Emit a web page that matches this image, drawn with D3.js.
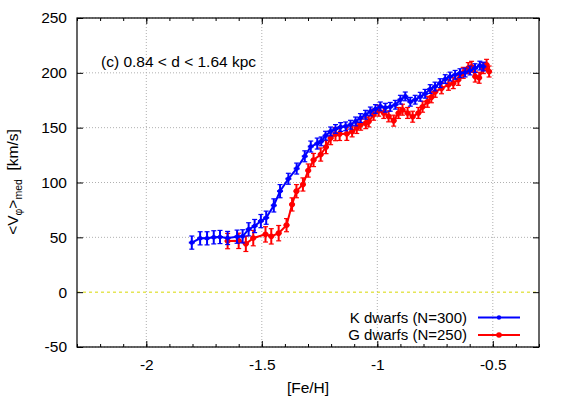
<!DOCTYPE html>
<html><head><meta charset="utf-8">
<script src="https://cdn.jsdelivr.net/npm/d3@7/dist/d3.min.js"></script>
<style>body{margin:0;background:#fff}svg{display:block}text{font-family:"Liberation Sans",Arial,sans-serif}</style>
</head><body>
<svg id="c" width="568" height="398"></svg>
<script>
// K dwarfs (N=300)
const kFe = [-1.803,-1.767,-1.737,-1.708,-1.681,-1.648,-1.607,-1.583,-1.557,-1.531,-1.504,-1.481,-1.448,-1.421,-1.385,-1.349,-1.314,-1.288,-1.260,-1.243,-1.224,-1.202,-1.181,-1.159,-1.137,-1.116,-1.094,-1.073,-1.051,-1.030,-1.008,-0.987,-0.965,-0.944,-0.922,-0.900,-0.879,-0.857,-0.836,-0.814,-0.793,-0.771,-0.750,-0.728,-0.706,-0.685,-0.663,-0.642,-0.620,-0.599,-0.577,-0.556,-0.541];
const kV  = [45.2,49.1,49.1,50.0,50.3,49.4,50.6,50.9,57.3,60.3,64.8,67.9,79.1,92.1,103.4,112.7,123.9,132.8,135.5,137.5,142.7,146.6,148.8,150.6,151.2,152.7,155.7,158.8,161.8,164.8,167.0,169.4,168.2,169.0,170.9,175.5,178.5,173.6,175.5,178.2,180.9,185.2,187.5,190.6,194.3,196.6,198.2,199.7,200.3,202.1,204.3,206.6,205.7];
const kErr= [6,6,6,6,6,6,6,6,6,6,6,6,6,6,5,5,5,5,5,4,4,4,4,4,4,4,4,4,4,4,4,4,4,4,4,4,4,4,4,4,4,4,4,4,4,4,4,4,4,4,4,4,4];
// G dwarfs (N=250)
const gFe = [-1.648,-1.600,-1.569,-1.537,-1.484,-1.459,-1.427,-1.393,-1.369,-1.350,-1.322,-1.299,-1.276,-1.245,-1.222,-1.202,-1.181,-1.163,-1.132,-1.109,-1.089,-1.072,-1.050,-1.037,-1.016,-0.994,-0.972,-0.951,-0.929,-0.908,-0.891,-0.869,-0.847,-0.822,-0.804,-0.783,-0.766,-0.749,-0.722,-0.692,-0.671,-0.649,-0.628,-0.606,-0.592,-0.576,-0.559,-0.541,-0.527,-0.516];
const gV  = [46.6,46.8,44.1,49.3,52.7,50.9,53.8,61.1,80.0,92.1,98.2,110.9,120.5,125.5,132.3,140.5,144.1,144.3,144.4,146.6,149.7,152.7,154.1,155.7,161.8,165.5,163.4,160.3,156.4,163.4,166.4,163.4,160.0,163.4,169.1,173.6,177.7,182.7,185.9,189.1,190.6,193.6,200.0,204.3,205.5,196.6,195.5,204.3,207.3,201.2];
const gErr= [7,7,7,7,7,7,7,6,6,6,6,6,6,6,6,6,6,6,6,5,5,5,5,5,5,5,5,5,5,5,5,5,5,5,5,5,5,5,5,5,5,5,5,5,5,5,5,5,5,5];

const xTicks = [-2,-1.5,-1,-0.5];
const xTickLabels = ["-2","-1.5","-1","-0.5"];
const yTicks = [-50,0,50,100,150,200,250];
const yTickLabels = ["-50","0","50","100","150","200","250"];

const FS = 15.5;
const svg = d3.select("#c");
const L=77,R=539,T=18,B=347;
const x = d3.scaleLinear().domain([-2.3,-0.3]).range([L,R]);
const y = d3.scaleLinear().domain([-50,250]).range([B,T]);

// grid
const g = svg.append("g");
xTicks.forEach(v=>g.append("line").attr("x1",x(v)).attr("x2",x(v)).attr("y1",T).attr("y2",B)
  .attr("stroke","#b0b0b0").attr("stroke-width",1).attr("stroke-dasharray","1,2"));
yTicks.filter(v=>v!==0).forEach(v=>g.append("line").attr("x1",L).attr("x2",R).attr("y1",y(v)).attr("y2",y(v))
  .attr("stroke","#b0b0b0").attr("stroke-width",1).attr("stroke-dasharray","1,2"));
g.append("line").attr("x1",L).attr("x2",R).attr("y1",y(0)).attr("y2",y(0))
  .attr("stroke","#d8d800").attr("stroke-width",1).attr("stroke-dasharray","3,3");

// axes with d3
const minor = d3.range(-2.3,-0.299,0.1).map(v=>+v.toFixed(2));
const styleText = a=>a.selectAll("text").attr("font-size",FS).attr("fill","#000").attr("font-family","Liberation Sans, Arial, sans-serif");
svg.append("g").attr("transform",`translate(0,${B})`)
  .call(d3.axisBottom(x).tickValues(minor).tickSize(-3).tickFormat(""))
  .call(a=>a.select(".domain").remove());
svg.append("g").attr("transform",`translate(0,${B})`)
  .call(d3.axisBottom(x).tickValues(xTicks).tickSize(-6).tickPadding(12).tickFormat((d,i)=>xTickLabels[i]))
  .call(a=>a.select(".domain").remove()).call(styleText);
svg.append("g").attr("transform",`translate(0,${T})`)
  .call(d3.axisTop(x).tickValues(minor).tickSize(-3).tickFormat(""))
  .call(a=>a.select(".domain").remove());
svg.append("g").attr("transform",`translate(0,${T})`)
  .call(d3.axisTop(x).tickValues(xTicks).tickSize(-6).tickFormat(""))
  .call(a=>a.select(".domain").remove());
svg.append("g").attr("transform",`translate(${L},0)`)
  .call(d3.axisLeft(y).tickValues(yTicks).tickSize(-6).tickPadding(10).tickFormat((d,i)=>yTickLabels[i]))
  .call(a=>a.select(".domain").remove()).call(styleText);
svg.append("g").attr("transform",`translate(${R},0)`)
  .call(d3.axisRight(y).tickValues(yTicks).tickSize(-6).tickFormat(""))
  .call(a=>a.select(".domain").remove());
svg.selectAll(".tick line").attr("stroke","#000");

svg.append("rect").attr("x",L).attr("y",T).attr("width",R-L).attr("height",B-T)
  .attr("fill","none").attr("stroke","#000").attr("stroke-width",1.2);

// series
function drawSeries(fe, v, err, color, r){
  const pts = fe.map((f,i)=>({f, v:v[i], e:err[i]}));
  const s = svg.append("g");
  s.append("path").datum(pts)
    .attr("d", d3.line().x(d=>x(d.f)).y(d=>y(d.v)))
    .attr("fill","none").attr("stroke",color).attr("stroke-width",2);
  s.selectAll("line.eb").data(pts).enter().append("line")
    .attr("x1",d=>x(d.f)).attr("x2",d=>x(d.f)).attr("y1",d=>y(d.v-d.e)).attr("y2",d=>y(d.v+d.e))
    .attr("stroke",color).attr("stroke-width",2);
  s.selectAll("line.c1").data(pts).enter().append("line")
    .attr("x1",d=>x(d.f)-2.5).attr("x2",d=>x(d.f)+2.5).attr("y1",d=>y(d.v-d.e)).attr("y2",d=>y(d.v-d.e))
    .attr("stroke",color).attr("stroke-width",1.2);
  s.selectAll("line.c2").data(pts).enter().append("line")
    .attr("x1",d=>x(d.f)-2.5).attr("x2",d=>x(d.f)+2.5).attr("y1",d=>y(d.v+d.e)).attr("y2",d=>y(d.v+d.e))
    .attr("stroke",color).attr("stroke-width",1.2);
  s.selectAll("line.h").data(pts).enter().append("line")
    .attr("x1",d=>x(d.f)-3).attr("x2",d=>x(d.f)+3).attr("y1",d=>y(d.v)).attr("y2",d=>y(d.v))
    .attr("stroke",color).attr("stroke-width",2);
  s.selectAll("circle").data(pts).enter().append("circle")
    .attr("cx",d=>x(d.f)).attr("cy",d=>y(d.v)).attr("r",r).attr("fill",color);
}
drawSeries(gFe,gV,gErr,"#ff0000",2.8);
drawSeries(kFe,kV,kErr,"#0000ff",2.3);

// legend
const LFS = 15;
const leg = [{t:"K dwarfs (N=300)",c:"#0000ff",r:2.2,y:317.5},{t:"G dwarfs (N=250)",c:"#ff0000",r:2.8,y:335}];
leg.forEach(l=>{
  svg.append("text").attr("x",467).attr("y",l.y+5.3).attr("text-anchor","end").attr("font-size",LFS).text(l.t);
  svg.append("line").attr("x1",478).attr("x2",520).attr("y1",l.y).attr("y2",l.y).attr("stroke",l.c).attr("stroke-width",2);
  svg.append("circle").attr("cx",499).attr("cy",l.y).attr("r",l.r).attr("fill",l.c);
});

// annotation
svg.append("text").attr("x",101).attr("y",67).attr("font-size",FS).text("(c) 0.84 < d < 1.64 kpc");

// axis labels
svg.append("text").attr("x",308).attr("y",393).attr("text-anchor","middle").attr("font-size",FS).text("[Fe/H]");
const yl = svg.append("text").attr("transform","translate(18,182) rotate(-90)").attr("text-anchor","middle").attr("font-size",FS).style("white-space","pre");
yl.append("tspan").text("<V");
yl.append("tspan").attr("dy",4).attr("font-size",10.5).text("φ");
yl.append("tspan").attr("dy",-4).text(">");
yl.append("tspan").attr("dy",4).attr("font-size",10.5).text("med");
yl.append("tspan").attr("dy",-4).text("  [km/s]");
</script>
</body></html>
